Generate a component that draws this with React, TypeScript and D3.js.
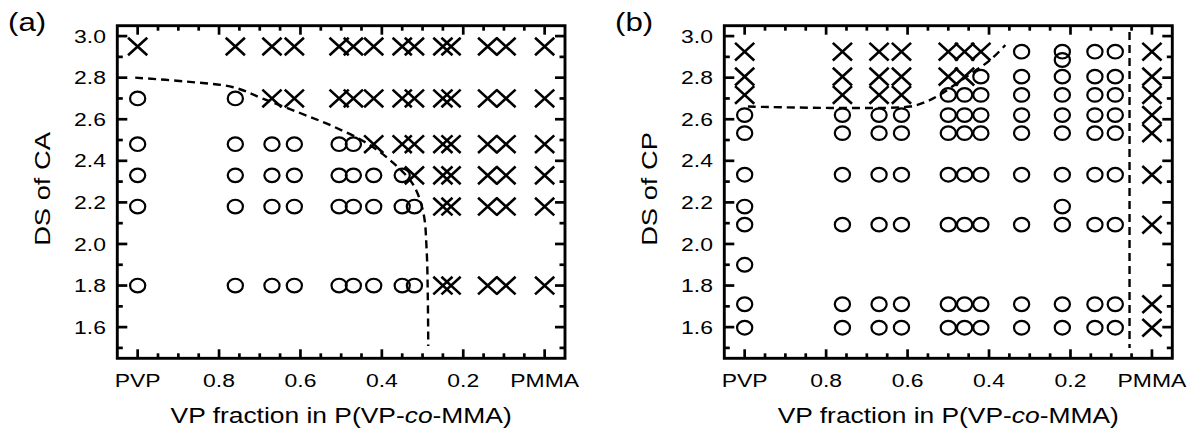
import { useEffect, useRef } from "react";
import * as d3 from "d3";

// panel (a): DS of CA
const vpA = [1.0, 0.76, 0.67, 0.615, 0.505, 0.47, 0.42, 0.35, 0.32, 0.25, 0.23, 0.14, 0.095, 0.0];
const dsA = [2.95, 2.7, 2.48, 2.33, 2.18, 1.8];
const symA = [
  "xxxxxxxxxxxxxx",
  "ooxxxxxxxxxxxx",
  "ooooooxxxxxxxx",
  "ooooooooxxxxxx",
  "oooooooooxxxxx",
  "oooooooooxxxxx",
];
const boundaryA: [number, number][] = [
  [1.006, 2.8], [0.879, 2.781], [0.765, 2.754], [0.691, 2.698], [0.601, 2.63],
  [0.519, 2.565], [0.437, 2.485], [0.372, 2.39], [0.323, 2.285], [0.298, 2.15],
  [0.29, 1.973], [0.287, 1.733], [0.286, 1.509],
];

// panel (b): DS of CP
const vpB = [1.0, 0.76, 0.67, 0.615, 0.5, 0.46, 0.42, 0.32, 0.22, 0.14, 0.09, 0.0];
const dsB = [2.925, 2.885, 2.805, 2.717, 2.62, 2.533, 2.333, 2.18, 2.093, 1.9, 1.71, 1.597];
const symB = [
  "xxxxxxxoooox",
  "........o...",
  "xxxxxxooooox",
  "xxxxooooooox",
  "ooooooooooox",
  "ooooooooooox",
  "ooooooooooox",
  "o.......o...",
  "ooooooooooox",
  "o...........",
  "ooooooooooox",
  "ooooooooooox",
];
const boundaryB: [number, number][] = [
  [0.992, 2.661], [0.594, 2.661], [0.56, 2.68], [0.524, 2.714],
  [0.459, 2.8], [0.397, 2.885], [0.36, 2.957],
];
const verticalB: [number, number][] = [[0.055, 3.02], [0.055, 1.5]];

const xTickVals = [1, 0.8, 0.6, 0.4, 0.2, 0];
const xTickText = ["PVP", "0.8", "0.6", "0.4", "0.2", "PMMA"];
const yTickVals = [1.6, 1.8, 2.0, 2.2, 2.4, 2.6, 2.8, 3.0];

const FONT = "'Liberation Sans', Arial, Helvetica, sans-serif";
const SX = 1.24;

export default function App() {
  const ref = useRef<SVGSVGElement>(null);

  useEffect(() => {
    const svg = d3.select(ref.current);
    svg.selectAll("*").remove();

    const top = 25.7;
    const bottom = 358.3;

    const panels = [
      { left: 117.3, right: 565, label: "(a)", labelX: 8, ytitle: "DS of CA", ytitleX: 50,
        vp: vpA, ds: dsA, sym: symA, lines: [boundaryA] },
      { left: 724.3, right: 1172.3, label: "(b)", labelX: 615, ytitle: "DS of CP", ytitleX: 656.7,
        vp: vpB, ds: dsB, sym: symB, lines: [boundaryB, verticalB] },
    ];

    panels.forEach((p) => {
      const g = svg.append("g");
      const x = d3.scaleLinear().domain([1.05, -0.05]).range([p.left, p.right]);
      const y = d3.scaleLinear().domain([3.05, 1.45]).range([top, bottom]);

      // dashed boundaries
      const line = d3
        .line<[number, number]>()
        .x((d) => x(d[0]))
        .y((d) => y(d[1]))
        .curve(d3.curveCatmullRom);
      p.lines.forEach((pts) => {
        g.append("path")
          .attr("d", line(pts))
          .attr("fill", "none")
          .attr("stroke", "#000")
          .attr("stroke-width", 2.4)
          .attr("stroke-dasharray", "8,5");
      });

      // markers
      p.sym.forEach((row, i) => {
        row.split("").forEach((c, j) => {
          const cx = x(p.vp[j]);
          const cy = y(p.ds[i]);
          if (c === "o") {
            g.append("ellipse")
              .attr("cx", cx).attr("cy", cy)
              .attr("rx", 7.6).attr("ry", 6.8)
              .attr("fill", "none").attr("stroke", "#000").attr("stroke-width", 2.2);
          } else if (c === "x") {
            const hw = 9.6, hh = 8.8;
            g.append("path")
              .attr("d", `M${cx - hw},${cy - hh}L${cx + hw},${cy + hh}M${cx - hw},${cy + hh}L${cx + hw},${cy - hh}`)
              .attr("stroke", "#000").attr("stroke-width", 2.6).attr("fill", "none");
          }
        });
      });

      // ticks (inward, all four sides)
      const tick = (x1: number, y1: number, x2: number, y2: number) =>
        g.append("line")
          .attr("x1", x1).attr("y1", y1).attr("x2", x2).attr("y2", y2)
          .attr("stroke", "#000").attr("stroke-width", 2.7);

      d3.range(-0.05, 1.051, 0.05).forEach((v) => {
        const r = Math.round(v * 100);
        if (r <= -5 || r >= 105) return;
        const major = r % 20 === 0;
        const len = major ? 9 : 5;
        tick(x(v), bottom, x(v), bottom - len);
        tick(x(v), top, x(v), top + len);
      });
      d3.range(1.5, 3.01, 0.1).forEach((v) => {
        const r = Math.round(v * 10);
        const major = r % 2 === 0;
        const len = major ? 10 : 5.5;
        tick(p.left, y(v), p.left + len, y(v));
        tick(p.right, y(v), p.right - len, y(v));
      });

      // frame
      g.append("rect")
        .attr("x", p.left).attr("y", top)
        .attr("width", p.right - p.left).attr("height", bottom - top)
        .attr("fill", "none").attr("stroke", "#000").attr("stroke-width", 2.9);

      const text = (s: string, tx: number, ty: number, size: number, anchor: string, extra = "") =>
        g.append("text")
          .attr("transform", `translate(${tx},${ty}) ${extra} scale(${SX},1)`)
          .attr("text-anchor", anchor)
          .attr("font-family", FONT)
          .attr("font-size", size)
          .attr("fill", "#000")
          .text(s);

      xTickVals.forEach((v, i) => text(xTickText[i], x(v), 386.5, 18.5, "middle"));
      yTickVals.forEach((v) => text(v.toFixed(1), p.left - 11.3, y(v) + 6.6, 18.5, "end"));

      const xt = g.append("text")
        .attr("transform", `translate(${(p.left + p.right) / 2},423) scale(1.2,1)`)
        .attr("text-anchor", "middle")
        .attr("font-family", FONT)
        .attr("font-size", 22)
        .attr("fill", "#000");
      xt.append("tspan").text("VP fraction in P(VP-");
      xt.append("tspan").attr("font-style", "italic").text("co");
      xt.append("tspan").text("-MMA)");

      text(p.ytitle, p.ytitleX, 189, 22, "middle", "rotate(-90)");
      text(p.label, p.labelX, 31.2, 26, "start").attr("transform", `translate(${p.labelX},31.2) scale(1.2,1)`);
    });
  }, []);

  return (
    <svg
      ref={ref}
      width={1196}
      height={434}
      style={{ position: "absolute", left: 0, top: 0, background: "#fff" }}
    />
  );
}
